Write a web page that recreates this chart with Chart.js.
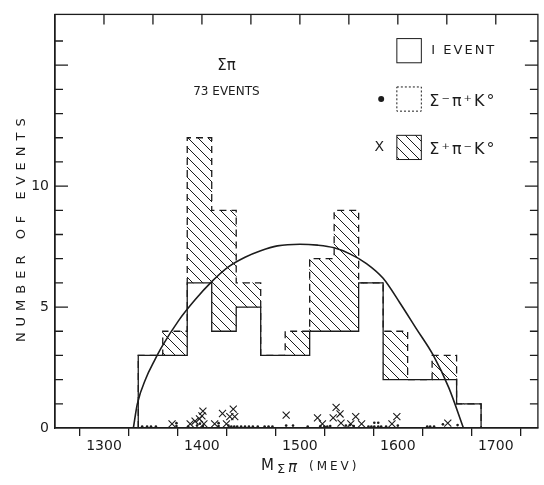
<!DOCTYPE html>
<html>
<head>
<meta charset="utf-8">
<script src="https://cdn.jsdelivr.net/npm/chart.js@4.4.1/dist/chart.umd.min.js"></script>
<style>
body{margin:0;background:#fff;}
canvas{display:block;}
</style>
</head>
<body>
<canvas id="myChart" width="544" height="485"></canvas>
<script>
// left edges of the 25 MeV bins (last one is the closing edge)
var binEdges = [1335,1360,1385,1410,1435,1460,1485,1510,1535,1560,1585,1610,1635,1660,1685];
var solidCounts = [3,3,6,4,5,3,3,4,4,6,2,2,2,1];   // sigma- pi+ K0 (open)
var hatchCounts = [0,1,6,5,1,0,1,3,5,0,2,0,1,0];   // sigma+ pi- K0 (hatched, on top)

// phase space curve
var curveX = [1330,1334,1343,1351,1359,1376,1393,1410,1427,1444,1460,1477,1500,1518,1535,1551,1568,1585,1602,1619,1636,1652,1667];
var curveY = [0,0.99,2.07,2.74,3.35,4.43,5.3,6.05,6.66,7.06,7.33,7.53,7.6,7.56,7.45,7.2,6.8,6.19,5.18,4.1,3.02,1.67,0];

// single events along the axis
var dotMass = [1339,1344,1348,1353,1374,1374,1386,1395,1398,1401,1417,1417,1427,1430,1433,1436,1440,1444,1448,1452,1457,1464,1468,1472,1486,1493,1508,1521,1525,1528,1531,1547,1551,1555,1570,1573,1576,1576,1580,1580,1583,1588,1600,1630,1633,1637,1646,1661];
var dotY    = [0.06,0.06,0.06,0.06,0.08,0.2,0.06,0.1,0.18,0.08,0.08,0.2,0.1,0.06,0.06,0.06,0.06,0.06,0.06,0.06,0.06,0.06,0.06,0.06,0.1,0.1,0.06,0.08,0.06,0.06,0.08,0.1,0.12,0.08,0.06,0.06,0.06,0.22,0.06,0.22,0.06,0.06,0.1,0.06,0.06,0.06,0.15,0.12];
var crossMass = [1369.5,1388,1393,1397.5,1400,1401,1402,1413,1421,1425,1428.5,1432,1433.5,1486,1518,1523,1534,1537,1541,1542,1552,1557,1563,1594,1599,1651];
var crossY    = [0.17,0.17,0.28,0.38,0.5,0.7,0.17,0.17,0.6,0.17,0.47,0.78,0.47,0.53,0.42,0.17,0.42,0.85,0.58,0.2,0.17,0.47,0.17,0.17,0.47,0.2];

var xTickLabels = [1300,1400,1500,1600,1700];
var yTickLabels = [0,5,10];

var ink = '#1c1c1c';

// hatch "\\"
function makeHatch(){
  var s = 10;
  var c = document.createElement('canvas');
  c.width = s; c.height = s;
  var g = c.getContext('2d');
  g.strokeStyle = ink; g.lineWidth = 1;
  g.beginPath();
  g.moveTo(0,0); g.lineTo(s,s);
  g.moveTo(-s,0); g.lineTo(0,s);
  g.moveTo(s,0); g.lineTo(2*s,s);
  g.stroke();
  return document.getElementById('myChart').getContext('2d').createPattern(c,'repeat');
}

var hatchBars = [], solidLine = [], totalLine = [];
var nb = solidCounts.length;
solidLine.push({x: binEdges[0], y: 0});
totalLine.push({x: binEdges[0], y: 0});
for (let i = 0; i < nb; i++) {
  var w = binEdges[i+1] - binEdges[i];
  hatchBars.push({x: binEdges[i] + w/2, y: [solidCounts[i], solidCounts[i] + hatchCounts[i]]});
  solidLine.push({x: binEdges[i], y: solidCounts[i]});
  totalLine.push({x: binEdges[i], y: solidCounts[i] + hatchCounts[i]});
}
solidLine.push({x: binEdges[nb], y: 0});
totalLine.push({x: binEdges[nb], y: 0});

var curve = curveX.map(function(x,i){ return {x: x, y: curveY[i]}; });
var dots = dotMass.map(function(x,i){ return {x: x, y: dotY[i]}; });
var crosses = crossMass.map(function(x,i){ return {x: x, y: crossY[i]}; });

var extras = {
  id: 'extras',
  afterDraw: function(chart){
    var ctx = chart.ctx, a = chart.chartArea;
    var xs = chart.scales.x, ys = chart.scales.y;
    ctx.save();
    ctx.strokeStyle = ink; ctx.fillStyle = ink; ctx.lineWidth = 1.3;
    ctx.strokeRect(a.left, a.top, a.right - a.left, a.bottom - a.top);
    // inside ticks
    ctx.beginPath();
    for (let v = 1; v <= 16; v++) {
      var y = ys.getPixelForValue(v);
      var len = v % 5 === 0 ? 13 : 8;
      ctx.moveTo(a.left, y); ctx.lineTo(a.left + len, y);
      ctx.moveTo(a.right, y); ctx.lineTo(a.right - len, y);
    }
    for (let m = 1300; m < xs.max; m += 50) {
      var x = xs.getPixelForValue(m);
      ctx.moveTo(x, a.top); ctx.lineTo(x, a.top + 10);
    }
    ctx.stroke();

    // legend, boxes are 1 bin x 1 event
    var bx0 = xs.getPixelForValue(1599), bx1 = xs.getPixelForValue(1624);
    var rows = [16.1, 14.1, 12.1];
    ctx.lineWidth = 1;
    rows.forEach(function(r, k){
      var y0 = ys.getPixelForValue(r), y1 = ys.getPixelForValue(r - 1);
      if (k === 2) { ctx.fillStyle = hatchPattern; ctx.fillRect(bx0, y0, bx1 - bx0, y1 - y0); ctx.fillStyle = ink; }
      ctx.setLineDash(k === 1 ? [2,2] : []);
      ctx.strokeRect(bx0, y0, bx1 - bx0, y1 - y0);
    });
    ctx.setLineDash([]);
    ctx.textBaseline = 'middle'; ctx.textAlign = 'left';
    ctx.font = '13px "DejaVu Sans"';
    ctx.letterSpacing = '2px';
    ctx.fillText('I EVENT', bx1 + 10, ys.getPixelForValue(15.6));
    ctx.font = '16px "DejaVu Sans"';
    ctx.letterSpacing = '2px';
    ctx.fillText('\u03A3\u207B\u03C0\u207AK\u00B0', bx1 + 8, ys.getPixelForValue(13.5));
    ctx.fillText('\u03A3\u207A\u03C0\u207BK\u00B0', bx1 + 8, ys.getPixelForValue(11.5));
    ctx.letterSpacing = '0px';
    ctx.beginPath();
    ctx.arc(xs.getPixelForValue(1583), ys.getPixelForValue(13.6), 3, 0, 2*Math.PI);
    ctx.fill();
    ctx.font = '14px "DejaVu Sans"';
    ctx.textAlign = 'center';
    ctx.fillText('X', xs.getPixelForValue(1581), ys.getPixelForValue(11.6));

    // title text
    ctx.font = '15px "DejaVu Sans"';
    ctx.fillText('\u03A3\u03C0', xs.getPixelForValue(1425), ys.getPixelForValue(14.97));
    ctx.font = '12px "DejaVu Sans"';
    ctx.fillText('73 EVENTS', xs.getPixelForValue(1425), ys.getPixelForValue(13.9));

    // y title
    ctx.save();
    ctx.translate(22, (a.top + a.bottom) / 2 + 6);
    ctx.rotate(-Math.PI/2);
    ctx.font = '13px "DejaVu Sans"';
    ctx.letterSpacing = '6px';
    ctx.fillText('NUMBER OF EVENTS', 0, 0);
    ctx.restore();

    // x title
    ctx.textAlign = 'left';
    ctx.font = '15px "DejaVu Sans"';
    ctx.fillText('M', 261, 466);
    ctx.font = '13px "DejaVu Sans"';
    ctx.fillText('\u03A3', 277, 470);
    ctx.font = 'italic 15px "DejaVu Sans"';
    ctx.fillText('\u03C0', 288, 468);
    ctx.font = '12px "DejaVu Sans"';
    ctx.letterSpacing = '3px';
    ctx.fillText('(MEV)', 309, 467);
    ctx.restore();
  }
};

var hatchPattern = makeHatch();

new Chart(document.getElementById('myChart'), {
  type: 'scatter',
  data: {
    datasets: [
      { type: 'bar', label: 'hatch', data: hatchBars, backgroundColor: hatchPattern, borderWidth: 0,
        barPercentage: 1, categoryPercentage: 1, order: 5 },
      { type: 'line', label: 'total', data: totalLine, stepped: true, borderColor: ink, borderWidth: 1.3,
        borderDash: [7,5], segment: { borderDash: [7,5] }, pointRadius: 0, fill: false, order: 4 },
      { type: 'line', label: 'solid', data: solidLine, stepped: true, borderColor: ink, borderWidth: 1.3,
        pointRadius: 0, fill: false, order: 3 },
      { type: 'line', label: 'curve', data: curve, borderColor: ink, borderWidth: 1.6,
        cubicInterpolationMode: 'monotone', pointRadius: 0, fill: false, order: 2 },
      { type: 'scatter', label: 'dots', data: dots, pointStyle: 'circle', pointRadius: 1.3,
        backgroundColor: ink, borderColor: ink, borderWidth: 0, order: 1 },
      { type: 'scatter', label: 'x', data: crosses, pointStyle: 'crossRot', pointRadius: 5,
        borderColor: ink, borderWidth: 1.1, order: 1 }
    ]
  },
  options: {
    responsive: false,
    animation: false,
    events: [],
    layout: { padding: { left: 0, right: 1, top: 5, bottom: 0 } },
    plugins: { legend: { display: false }, tooltip: { enabled: false } },
    scales: {
      x: {
        type: 'linear', min: 1250, max: 1743, offset: false,
        afterFit: function(s){ s.height = 57; },
        border: { display: true, color: ink, width: 1.3 },
        grid: { drawOnChartArea: false, drawTicks: true, tickLength: 8, color: ink, lineWidth: 1.3 },
        ticks: {
          stepSize: 50, includeBounds: false, maxRotation: 0, autoSkip: false, padding: 2,
          color: ink, font: { family: 'DejaVu Sans', size: 14 },
          callback: function(v){ return xTickLabels.indexOf(v) >= 0 ? String(v) : ''; }
        }
      },
      y: {
        type: 'linear', min: 0, max: 17.1,
        afterFit: function(s){ s.width = 55; },
        border: { display: true, color: ink, width: 1.3 },
        grid: { display: false, drawTicks: false },
        ticks: {
          stepSize: 1, includeBounds: false, autoSkip: false, padding: 6,
          color: ink, font: { family: 'DejaVu Sans', size: 14 },
          callback: function(v){ return yTickLabels.indexOf(v) >= 0 ? String(v) : ''; }
        }
      }
    }
  },
  plugins: [extras]
});
</script>
</body>
</html>
